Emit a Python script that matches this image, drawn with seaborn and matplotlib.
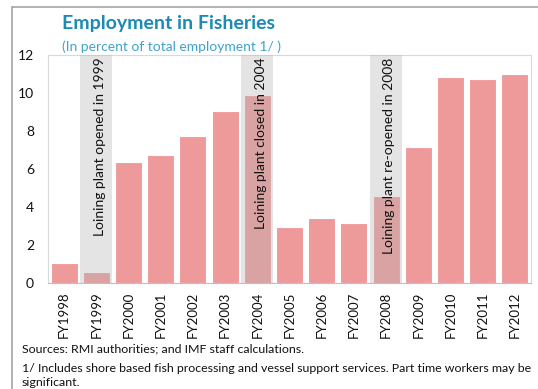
import matplotlib
matplotlib.use("Agg")
import matplotlib.pyplot as plt
import seaborn as sns
import pandas as pd
from matplotlib.lines import Line2D

years = ["FY1998", "FY1999", "FY2000", "FY2001", "FY2002", "FY2003", "FY2004",
         "FY2005", "FY2006", "FY2007", "FY2008", "FY2009", "FY2010", "FY2011", "FY2012"]
share = [1.04, 0.6, 6.35, 6.72, 7.74, 9.07, 9.88, 2.93, 3.4, 3.14, 4.58, 7.14, 10.83, 10.76, 11.0]

events = ["FY1999", "FY2004", "FY2008"]
event_labels = ["Loining plant opened in 1999", "Loining plant closed in 2004",
                "Loining plant re-opened in 2008"]

title = "Employment in Fisheries"
subtitle = "(In percent of total employment 1/ )"
notes = ["Sources: RMI authorities; and IMF staff calculations.",
         "1/ Includes shore based fish processing and vessel support services. Part time workers may be",
         "significant."]

sns.set_style("white")
plt.rcParams["font.family"] = ["Lato", "DejaVu Sans"]

df = pd.DataFrame({"year": years, "share": share})

fig = plt.figure(figsize=(5.38, 3.89), dpi=100)
ax = fig.add_axes([48 / 538, 1 - 283 / 389, (531 - 48) / 538, (283 - 55) / 389])

sns.barplot(data=df, x="year", y="share", color="#EF9A9A", saturation=1,
            width=0.84, edgecolor="white", linewidth=0.8, ax=ax, zorder=2)

# shaded event columns drawn over the bars
for ev, lab in zip(events, event_labels):
    i = years.index(ev)
    ax.axvspan(i - 0.5, i + 0.5, color="#B4B4B4", alpha=0.35, lw=0, zorder=3)
    ax.text(i + 0.1, 11.85, lab, rotation=90, ha="center", va="top",
            fontsize=10, color="#111111", zorder=4)

ax.set_xlim(-0.5, len(years) - 0.5)
ax.set_ylim(0, 12)
ax.set_yticks(range(0, 13, 2))
ax.set_xlabel("")
ax.set_ylabel("")
ax.tick_params(axis="x", rotation=90, labelsize=9.5, length=0, pad=6)
ax.tick_params(axis="y", labelsize=10, length=0, pad=10)
for lbl in ax.get_xticklabels() + ax.get_yticklabels():
    lbl.set_color("#111111")
for s in ax.spines.values():
    s.set_color("#D9D9D9")
    s.set_linewidth(0.8)
ax.spines["bottom"].set_color("#BFBFBF")

fig.text(62 / 538, 1 - 24 / 389, title, fontsize=14, fontweight="bold",
         color="#1B8AB5", va="center", ha="left")
fig.text(62 / 538, 1 - 47 / 389, subtitle, fontsize=10, color="#3FA3CE",
         va="center", ha="left")

for note, yy in zip(notes, [349, 368, 382]):
    fig.text(22 / 538, 1 - yy / 389, note, fontsize=8.9, color="#111111",
             va="center", ha="left")

# outer frame (left and top edges)
fig.add_artist(Line2D([12 / 538, 12 / 538], [0, 1 - 7 / 389], transform=fig.transFigure,
                      color="#A6A6A6", lw=1.2))
fig.add_artist(Line2D([12 / 538, 1], [1 - 7 / 389, 1 - 7 / 389], transform=fig.transFigure,
                      color="#A6A6A6", lw=1.2))

fig.savefig("out.png", dpi=100)
